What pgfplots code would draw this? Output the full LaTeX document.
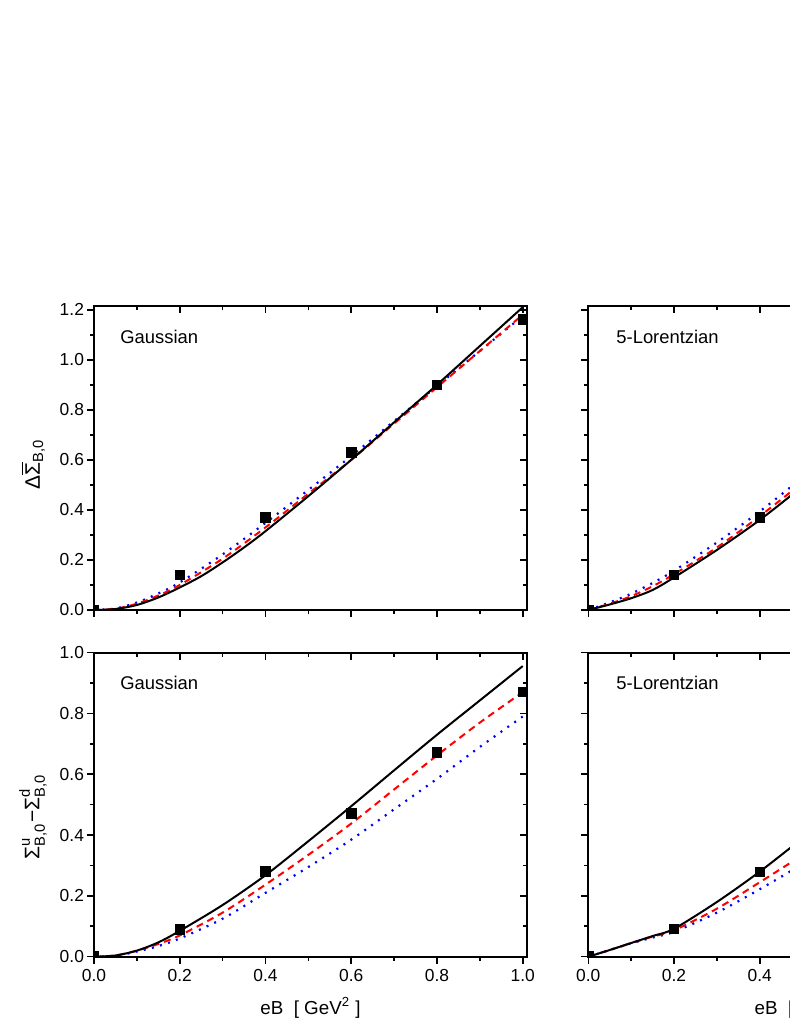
\documentclass[border=0pt]{standalone}
\usepackage{fontspec}
\setmainfont{Liberation Sans}
\usepackage{amsmath}
\usepackage{pgfplots}
\pgfplotsset{compat=1.18}

\pgfplotsset{
  panel/.style={
    scale only axis, width=216.5pt, height=152pt,
    xmin=0, xmax=1.01, ymin=0,
    xtick={0,0.2,0.4,0.6,0.8,1.0},
    minor x tick num=1, minor y tick num=1,
    axis line style={line width=0.95pt},
    major tick length=3.5pt, minor tick length=2pt,
    every tick/.style={black, line width=0.8pt},
    every minor tick/.style={black, line width=0.8pt},
    tick label style={font=\fontsize{8.7}{10}\selectfont},
    yticklabel style={xshift=2pt},
    xticklabel style={yshift=0.5pt},
    clip marker paths=true,
    /pgf/number format/fixed, /pgf/number format/fixed zerofill,
    /pgf/number format/precision=1, /pgf/number format/assume math mode=true,
  },
  mainax/.style={panel, tick align=outside, xtick pos=left, ytick pos=left},
  mirrorax/.style={panel, tick align=inside, xtick pos=right, ytick pos=right,
    xticklabels={}, yticklabels={}},
  topy/.style={ymax=1.215, ytick={0,0.2,0.4,0.6,0.8,1.0,1.2}},
  boty/.style={ymax=1.0, ytick={0,0.2,0.4,0.6,0.8,1.0}},
}
\tikzset{
  solidc/.style={black, line width=1pt, smooth},
  dashc/.style={red, line width=1pt, dash pattern=on 3.5pt off 2.5pt, smooth},
  dotc/.style={blue, line width=1.1pt, dash pattern=on 1pt off 3.2pt, smooth},
  sqm/.style={only marks, mark=square*, mark size=2.4pt, black},
  lab/.style={anchor=west, inner sep=0pt, font=\fontsize{9.2}{11}\selectfont},
}

\begin{document}
\begin{tikzpicture}
% ---------- top left ----------
\begin{axis}[mainax, topy, at={(47pt,205.5pt)}, anchor=south west, xticklabels={},
  ylabel={Δ$\overline{\text{Σ}}_{\text{B,0}}$},
  ylabel style={at={(axis description cs:-0.141,0.48)}, anchor=center, font=\fontsize{10.5}{12}\selectfont}]
\addplot[dotc] coordinates {(0,0)(0.05,0.006)(0.1,0.03)(0.15,0.066)(0.2,0.11)(0.3,0.222)(0.4,0.348)(0.5,0.48)(0.6,0.615)(0.7,0.755)(0.8,0.895)(0.9,1.035)(1.0,1.175)};
\addplot[dashc] coordinates {(0,0)(0.05,0.005)(0.1,0.025)(0.15,0.058)(0.2,0.1)(0.3,0.205)(0.4,0.33)(0.5,0.465)(0.6,0.6)(0.7,0.745)(0.8,0.89)(0.9,1.035)(1.0,1.18)};
\addplot[solidc] coordinates {(0,0)(0.05,0.004)(0.1,0.02)(0.15,0.05)(0.2,0.09)(0.25,0.135)(0.3,0.19)(0.35,0.25)(0.4,0.315)(0.5,0.455)(0.6,0.6)(0.7,0.75)(0.8,0.9)(0.9,1.055)(1.0,1.21)};
\addplot[sqm] coordinates {(0,0)(0.2,0.14)(0.4,0.37)(0.6,0.63)(0.8,0.90)(1.0,1.161)};
\node[lab] at (rel axis cs:0.06,0.898) {Gaussian};
\end{axis}
\begin{axis}[mirrorax, topy, at={(47pt,205.5pt)}, anchor=south west]
\end{axis}
% ---------- bottom left ----------
\begin{axis}[mainax, boty, at={(47pt,32.15pt)}, anchor=south west,
  xlabel={eB\ \ [ GeV\textsuperscript{2} ]},
  xlabel style={at={(axis description cs:0.5,-0.168)}, anchor=center, font=\fontsize{9.4}{11}\selectfont},
  ylabel={$\text{Σ}^{\text{u}}_{\text{B,0}}\text{−}\text{Σ}^{\text{d}}_{\text{B,0}}$},
  ylabel style={at={(axis description cs:-0.141,0.46)}, anchor=center, font=\fontsize{10.5}{12}\selectfont}]
\addplot[dotc] coordinates {(0,0)(0.05,0.003)(0.1,0.017)(0.15,0.035)(0.2,0.06)(0.3,0.125)(0.4,0.21)(0.5,0.295)(0.6,0.385)(0.7,0.485)(0.8,0.585)(0.9,0.69)(1.0,0.79)};
\addplot[dashc] coordinates {(0,0)(0.05,0.004)(0.1,0.02)(0.15,0.042)(0.2,0.07)(0.3,0.145)(0.4,0.237)(0.5,0.335)(0.6,0.438)(0.7,0.55)(0.8,0.662)(0.9,0.77)(1.0,0.87)};
\addplot[solidc] coordinates {(0,0)(0.05,0.004)(0.1,0.02)(0.15,0.047)(0.2,0.085)(0.3,0.17)(0.4,0.268)(0.5,0.38)(0.6,0.495)(0.7,0.613)(0.8,0.73)(0.9,0.843)(1.0,0.956)};
\addplot[sqm] coordinates {(0,0)(0.2,0.09)(0.4,0.28)(0.6,0.471)(0.8,0.672)(1.0,0.871)};
\node[lab] at (rel axis cs:0.06,0.901) {Gaussian};
\end{axis}
\begin{axis}[mirrorax, boty, at={(47pt,32.15pt)}, anchor=south west]
\end{axis}
% ---------- top right ----------
\begin{axis}[mainax, topy, at={(294.15pt,205.5pt)}, anchor=south west, xticklabels={}, yticklabels={}]
\addplot[dotc] coordinates {(0,0)(0.05,0.03)(0.1,0.065)(0.15,0.108)(0.2,0.157)(0.3,0.27)(0.4,0.394)(0.5,0.53)(0.6,0.67)(0.8,0.95)(1.0,1.22)};
\addplot[dashc] coordinates {(0,0)(0.05,0.025)(0.1,0.055)(0.15,0.095)(0.2,0.143)(0.3,0.25)(0.4,0.375)(0.5,0.51)(0.6,0.65)(0.8,0.93)(1.0,1.2)};
\addplot[solidc] coordinates {(0,0)(0.05,0.022)(0.1,0.047)(0.15,0.08)(0.2,0.13)(0.3,0.24)(0.4,0.36)(0.5,0.495)(0.6,0.635)(0.8,0.92)(1.0,1.2)};
\addplot[sqm] coordinates {(0,0)(0.2,0.141)(0.4,0.37)(0.6,0.63)(0.8,0.90)(1.0,1.16)};
\node[lab] at (rel axis cs:0.064,0.898) {5-Lorentzian};
\end{axis}
\begin{axis}[mirrorax, topy, at={(294.15pt,205.5pt)}, anchor=south west]
\end{axis}
% ---------- bottom right ----------
\begin{axis}[mainax, boty, at={(294.15pt,32.15pt)}, anchor=south west, yticklabels={},
  xlabel={eB\ \ [ GeV\textsuperscript{2} ]},
  xlabel style={at={(axis description cs:0.5,-0.168)}, anchor=center, font=\fontsize{9.4}{11}\selectfont}]
\addplot[dotc] coordinates {(0,0)(0.05,0.022)(0.1,0.044)(0.15,0.063)(0.2,0.082)(0.3,0.145)(0.4,0.222)(0.5,0.305)(0.6,0.39)(0.8,0.57)(1.0,0.76)};
\addplot[dashc] coordinates {(0,0)(0.05,0.022)(0.1,0.045)(0.15,0.066)(0.2,0.087)(0.3,0.158)(0.4,0.245)(0.5,0.335)(0.6,0.43)(0.8,0.63)(1.0,0.83)};
\addplot[solidc] coordinates {(0,0)(0.05,0.022)(0.1,0.045)(0.15,0.068)(0.2,0.092)(0.3,0.18)(0.4,0.28)(0.5,0.39)(0.6,0.5)(0.8,0.72)(1.0,0.94)};
\addplot[sqm] coordinates {(0,0)(0.2,0.0915)(0.4,0.279)(0.6,0.47)(0.8,0.67)(1.0,0.87)};
\node[lab] at (rel axis cs:0.064,0.901) {5-Lorentzian};
\end{axis}
\begin{axis}[mirrorax, boty, at={(294.15pt,32.15pt)}, anchor=south west]
\end{axis}
\pgfresetboundingbox
\path[use as bounding box] (0,0) rectangle (394.5pt,510.5pt);
\end{tikzpicture}
\end{document}
